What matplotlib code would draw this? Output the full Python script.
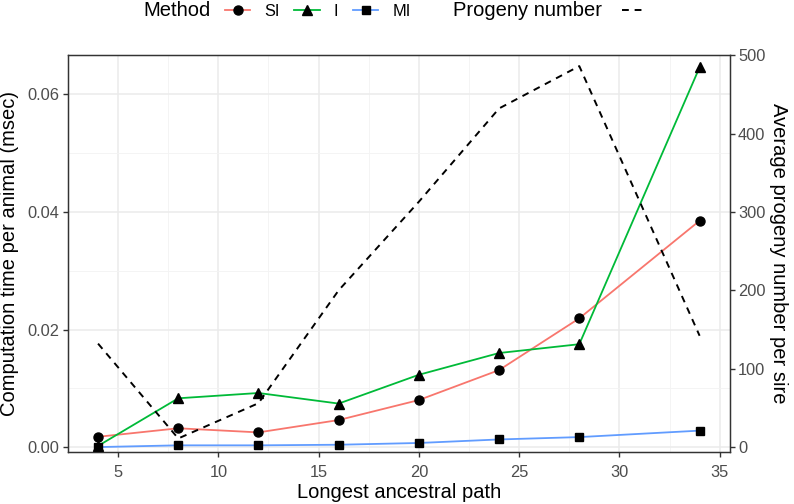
import matplotlib.pyplot as plt
from matplotlib.lines import Line2D
from matplotlib.ticker import MultipleLocator

plt.rcParams["font.family"] = ["Liberation Sans", "DejaVu Sans"]

# longest ancestral path
path_len = [4, 8, 12, 16, 20, 24, 28, 34]

# computation time per animal (msec)
time_si = [0.00175, 0.0032, 0.0025, 0.0046, 0.0080, 0.0131, 0.0219, 0.0385]
time_i = [0.0002, 0.0083, 0.0092, 0.0074, 0.0123, 0.0160, 0.0175, 0.0646]
time_mi = [0.0000, 0.0003, 0.0003, 0.0004, 0.0007, 0.0013, 0.0017, 0.0028]

# average progeny number per sire
progeny = [132, 11, 56, 200, 313, 432, 486, 142]

methods = ["SI", "I", "MI"]
colors = ["#F8766D", "#00BA38", "#619CFF"]
markers = ["o", "^", "s"]
msizes = [6.5, 7.2, 6.3]

SCALE = 7500  # progeny axis = time axis * SCALE

def main():
    fig = plt.figure(figsize=(7.94, 5.04), dpi=100)
    ax = fig.add_axes([0.0856, 0.103, 0.919 - 0.0856, 0.891 - 0.103])

    for vals, c, m, ms in zip([time_si, time_i, time_mi], colors, markers, msizes):
        ax.plot(path_len, vals, color=c, lw=1.3, zorder=3)
        ax.plot(path_len, vals, ls="none", marker=m, color="black",
                markersize=ms, zorder=4)

    ax.set_xlim(2.5, 35.5)
    ylo, yhi = -0.00085, 0.0667
    ax.set_ylim(ylo, yhi)
    ax.xaxis.set_major_locator(MultipleLocator(5))
    ax.xaxis.set_minor_locator(MultipleLocator(2.5))
    ax.yaxis.set_major_locator(MultipleLocator(0.02))
    ax.yaxis.set_minor_locator(MultipleLocator(0.01))
    ax.yaxis.set_major_formatter(plt.FuncFormatter(lambda v, p: f"{v:.2f}"))
    ax.grid(which="major", color="#EBEBEB", lw=1.1, zorder=0)
    ax.grid(which="minor", color="#F3F3F3", lw=0.6, zorder=0)
    ax.set_axisbelow(True)
    ax.tick_params(which="minor", length=0)
    ax.tick_params(which="major", length=3.5, width=1.0, color="#333333",
                   labelcolor="#4D4D4D", labelsize=11.8, pad=2.5)
    ax.tick_params(axis="x", pad=6)
    for s in ax.spines.values():
        s.set_color("#333333")
        s.set_linewidth(1.0)

    ax2 = ax.twinx()
    ax2.plot(path_len, progeny, color="black", ls=(0, (3.5, 3)), lw=1.4, zorder=5)
    ax2.set_ylim(ylo * SCALE, yhi * SCALE)
    ax2.yaxis.set_major_locator(MultipleLocator(100))
    ax2.tick_params(length=3.5, width=1.0, color="#333333", labelcolor="#4D4D4D",
                    labelsize=11.8, pad=2.5)
    for s in ax2.spines.values():
        s.set_color("#333333")

    ax.set_xlabel("Longest ancestral path", fontsize=14.5, labelpad=2)
    ax.set_ylabel("Computation time per animal (msec)", fontsize=14.5, labelpad=6)
    ax2.set_ylabel("Average progeny number per sire", fontsize=14.5, rotation=270,
                   labelpad=16)

    # legend at top
    ybase = 1 - 16.5 / 504
    fig.text(143 / 794, ybase, "Method", fontsize=14.5, va="baseline", ha="left")
    handles = [Line2D([], [], color=c, lw=1.3, marker=m, markerfacecolor="black",
                      markeredgecolor="black", markersize=ms)
               for c, m, ms in zip(colors, markers, msizes)]
    fig.legend(handles, methods, loc="center left",
               bbox_to_anchor=(225 / 794, 1 - 11 / 504),
               ncol=3, frameon=False, fontsize=11.8, handlelength=1.55,
               handletextpad=0.85, columnspacing=0.9, borderaxespad=0, borderpad=0)
    fig.text(453 / 794, ybase, "Progeny number", fontsize=14.5, va="baseline",
             ha="left")
    fig.legend([Line2D([], [], color="black", ls=(0, (3.5, 3)), lw=1.4)], [""],
               loc="center left", bbox_to_anchor=(622 / 794, 1 - 11 / 504),
               frameon=False, fontsize=11.8, handlelength=1.45,
               borderaxespad=0, borderpad=0)

    fig.savefig("out.png", dpi=100)
    plt.close(fig)

if __name__ == "__main__":
    main()
